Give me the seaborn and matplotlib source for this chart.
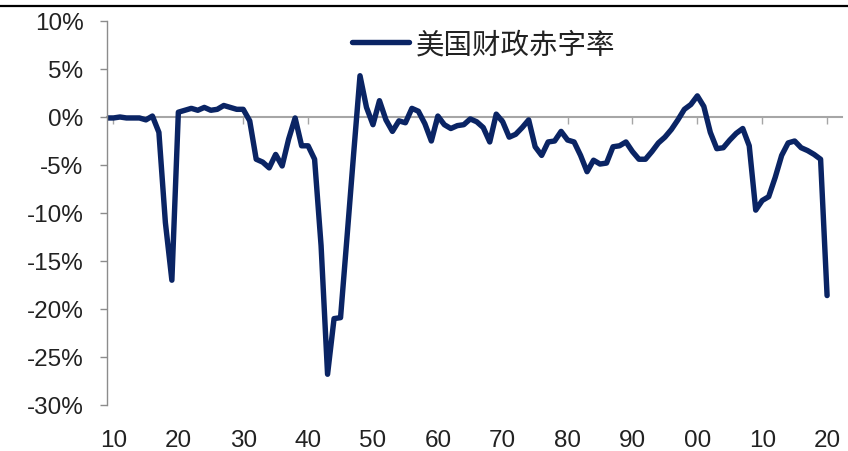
import matplotlib
matplotlib.use("Agg")
import matplotlib.pyplot as plt
import seaborn as sns
from matplotlib.lines import Line2D

# 美国财政赤字率（占GDP比重，%）
years = list(range(1909, 2021))
deficit = [
    -0.1, -0.1, 0.0, -0.1, -0.1, -0.1, -0.3, 0.1, -1.6, -11.0,      # 1909-1918
    -17.0, 0.5, 0.7, 0.9, 0.7, 1.0, 0.7, 0.8, 1.2, 1.0,             # 1919-1928
    0.8, 0.8, -0.4, -4.4, -4.7, -5.3, -3.9, -5.1, -2.3, -0.1,       # 1929-1938
    -3.0, -3.0, -4.4, -13.4, -26.8, -21.0, -20.9, -12.5, -4.0, 4.3,  # 1939-1948
    1.0, -0.8, 1.7, -0.3, -1.5, -0.4, -0.6, 0.9, 0.6, -0.7,         # 1949-1958
    -2.5, 0.1, -0.8, -1.2, -0.9, -0.8, -0.2, -0.5, -1.1, -2.6,      # 1959-1968
    0.3, -0.5, -2.1, -1.8, -1.1, -0.3, -3.1, -4.0, -2.6, -2.5,      # 1969-1978
    -1.5, -2.4, -2.6, -4.0, -5.7, -4.5, -4.9, -4.8, -3.1, -3.0,     # 1979-1988
    -2.6, -3.6, -4.4, -4.4, -3.6, -2.7, -2.1, -1.3, -0.3, 0.8,      # 1989-1998
    1.3, 2.2, 1.1, -1.6, -3.3, -3.2, -2.4, -1.7, -1.2, -3.0,        # 1999-2008
    -9.7, -8.7, -8.3, -6.3, -4.0, -2.7, -2.5, -3.2, -3.5, -3.9,     # 2009-2018
    -4.4, -18.6,                                                     # 2019-2020
]
series_name = "美国财政赤字率"

x_ticks = list(range(1910, 2021, 10))
x_labels = [str(y)[-2:] for y in x_ticks]
y_ticks = list(range(-30, 11, 5))
y_labels = [f"{v}%" for v in y_ticks]

sns.set_style("white")
plt.rcParams['font.family'] = ['Liberation Sans', 'Noto Sans CJK SC', 'DejaVu Sans']

fig = plt.figure(figsize=(8.48, 4.52), dpi=100)
ax = fig.add_axes([107 / 848, 1 - 406 / 452, (842 - 107) / 848, (406 - 22) / 452])

sns.lineplot(x=years, y=deficit, ax=ax, color="#0a2464", linewidth=3.9,
             label=series_name, solid_joinstyle="round", solid_capstyle="round")

ax.set_xlim(1909, 2022.3)
ax.set_ylim(-30, 10)

# y 轴
ax.set_yticks(y_ticks)
ax.set_yticklabels(y_labels)
ax.tick_params(axis="y", direction="out", length=5, width=1, color="#8c8c8c",
               labelsize=17.5, labelcolor="#222222", pad=12, left=True)

# x 轴放在 0 刻度处，标签放在底部
for side in ["top", "right"]:
    ax.spines[side].set_visible(False)
ax.spines["left"].set_color("#8c8c8c")
ax.spines["left"].set_linewidth(1)
ax.spines["bottom"].set_position(("data", 0))
ax.spines["bottom"].set_color("#a6a6a6")
ax.spines["bottom"].set_linewidth(1.5)
ax.spines["bottom"].set_zorder(0)
ax.set_xticks(x_ticks)
ax.tick_params(axis="x", direction="out", length=5, width=1, color="#a6a6a6",
               labelbottom=False, bottom=True)

sec = ax.secondary_xaxis("bottom")
sec.set_xticks(x_ticks)
sec.set_xticklabels(x_labels)
sec.spines["bottom"].set_visible(False)
sec.tick_params(axis="x", length=0, pad=17, labelsize=17.5, labelcolor="#222222")

ax.set_xlabel("")
ax.set_ylabel("")
ax.grid(False)

leg = ax.legend(loc="center left", bbox_to_anchor=(352 / 848, 1 - 45 / 452),
                bbox_transform=fig.transFigure, frameon=False,
                handlelength=2.0, handletextpad=0.25, borderpad=0, borderaxespad=0,
                prop={"family": ["Noto Sans CJK SC", "DejaVu Sans"], "size": 20.5})
for t in leg.get_texts():
    t.set_color("#222222")

# 顶部黑色分隔线
fig.add_artist(Line2D([0, 1], [1 - 7 / 452, 1 - 7 / 452], transform=fig.transFigure,
                      color="black", linewidth=1.6))

fig.savefig("out.png", dpi=100)
